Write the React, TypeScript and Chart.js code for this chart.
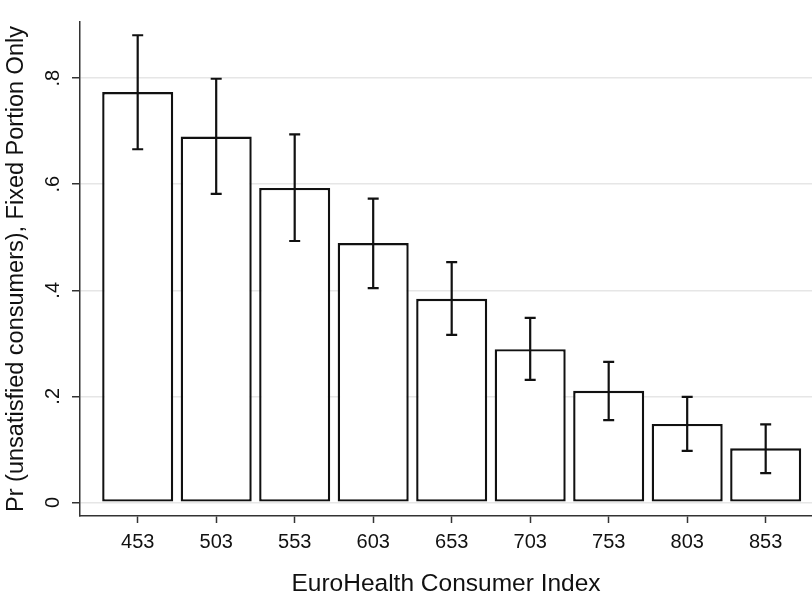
import React, { useEffect, useRef } from "react";
import { Chart, registerables } from "chart.js";

Chart.register(...registerables);

const categories = [453, 503, 553, 603, 653, 703, 753, 803, 853];
const probabilities = [0.774, 0.69, 0.593, 0.489, 0.384, 0.289, 0.2105, 0.148, 0.102];
const ciUpper = [0.881, 0.799, 0.694, 0.573, 0.453, 0.348, 0.265, 0.199, 0.147];
const ciLower = [0.666, 0.582, 0.493, 0.404, 0.316, 0.231, 0.155, 0.097, 0.055];
const yTickValues = [0, 0.2, 0.4, 0.6, 0.8];
const yTickLabels = ["0", ".2", ".4", ".6", ".8"];
const xTitle = "EuroHealth Consumer Index";
const yTitle = "Pr (unsatisfied consumers), Fixed Portion Only";

const FONT = "'Liberation Sans', Arial, Helvetica, sans-serif";
const INK = "#111111";

const errorBarPlugin = {
  id: "errorBars",
  afterDatasetsDraw(chart: any) {
    const xs = chart.scales.x;
    const ys = chart.scales.y;
    const ctx = chart.ctx;
    ctx.save();
    ctx.strokeStyle = INK;
    ctx.lineWidth = 2.2;
    ctx.lineCap = "butt";
    const cap = 5.5;
    categories.forEach((c, i) => {
      const x = xs.getPixelForValue(c);
      const yHi = ys.getPixelForValue(ciUpper[i]);
      const yLo = ys.getPixelForValue(ciLower[i]);
      ctx.beginPath();
      ctx.moveTo(x, yHi);
      ctx.lineTo(x, yLo);
      ctx.moveTo(x - cap, yHi);
      ctx.lineTo(x + cap, yHi);
      ctx.moveTo(x - cap, yLo);
      ctx.lineTo(x + cap, yLo);
      ctx.stroke();
    });
    ctx.restore();
  },
};

export default function App() {
  const canvasRef = useRef<HTMLCanvasElement | null>(null);

  useEffect(() => {
    if (!canvasRef.current) return;
    const chart = new Chart(canvasRef.current, {
      type: "bar",
      data: {
        datasets: [
          {
            data: categories.map((c, i) => ({ x: c, y: probabilities[i] })),
            backgroundColor: "#ffffff",
            borderColor: INK,
            borderWidth: 2.4,
            borderSkipped: false,
            categoryPercentage: 1,
            barPercentage: 0.905,
          },
        ],
      },
      options: {
        animation: false,
        responsive: true,
        maintainAspectRatio: false,
        layout: { padding: { top: 8, right: 0, bottom: 0, left: 0 } },
        plugins: {
          legend: { display: false },
          tooltip: { enabled: false },
        },
        scales: {
          x: {
            type: "linear",
            offset: false,
            min: 416.25,
            max: 882.5,
            afterBuildTicks: (scale: any) => {
              scale.ticks = categories.map((v) => ({ value: v }));
            },
            afterFit: (scale: any) => {
              scale.height = 85;
            },
            ticks: {
              color: INK,
              font: { family: FONT, size: 20 },
              padding: 7,
              maxRotation: 0,
              minRotation: 0,
              callback: (v: any) => String(v),
            },
            grid: {
              offset: false,
              drawOnChartArea: false,
              drawTicks: true,
              tickLength: 7,
              tickColor: "#333333",
              tickWidth: 1.5,
            },
            border: { display: true, color: "#333333", width: 1.5 },
            title: {
              display: true,
              text: xTitle,
              color: INK,
              font: { family: FONT, size: 24.5 },
              padding: { top: 0, bottom: 2 },
            },
          },
          y: {
            type: "linear",
            min: -0.0257,
            max: 0.906,
            afterBuildTicks: (scale: any) => {
              scale.ticks = yTickValues.map((v) => ({ value: v }));
            },
            afterFit: (scale: any) => {
              scale.width = 80;
            },
            ticks: {
              color: INK,
              font: { family: FONT, size: 20 },
              padding: 10,
              minRotation: 90,
              maxRotation: 90,
              crossAlign: "center",
              callback: (v: any) => {
                const idx = yTickValues.findIndex((t) => Math.abs(t - Number(v)) < 1e-9);
                return idx >= 0 ? yTickLabels[idx] : "";
              },
            },
            grid: {
              color: "#e6e6e6",
              lineWidth: 1.5,
              drawTicks: true,
              tickLength: 8,
              tickColor: "#333333",
              tickWidth: 1.5,
            },
            border: { display: true, color: "#333333", width: 1.5 },
            title: {
              display: true,
              text: yTitle,
              color: INK,
              font: { family: FONT, size: 23.5 },
              padding: { top: 2, bottom: 0 },
            },
          },
        },
      },
      plugins: [errorBarPlugin],
    });
    return () => chart.destroy();
  }, []);

  return (
    <div style={{ position: "absolute", left: 0, top: 0, width: 812, height: 601, background: "#ffffff" }}>
      <canvas ref={canvasRef} />
    </div>
  );
}
